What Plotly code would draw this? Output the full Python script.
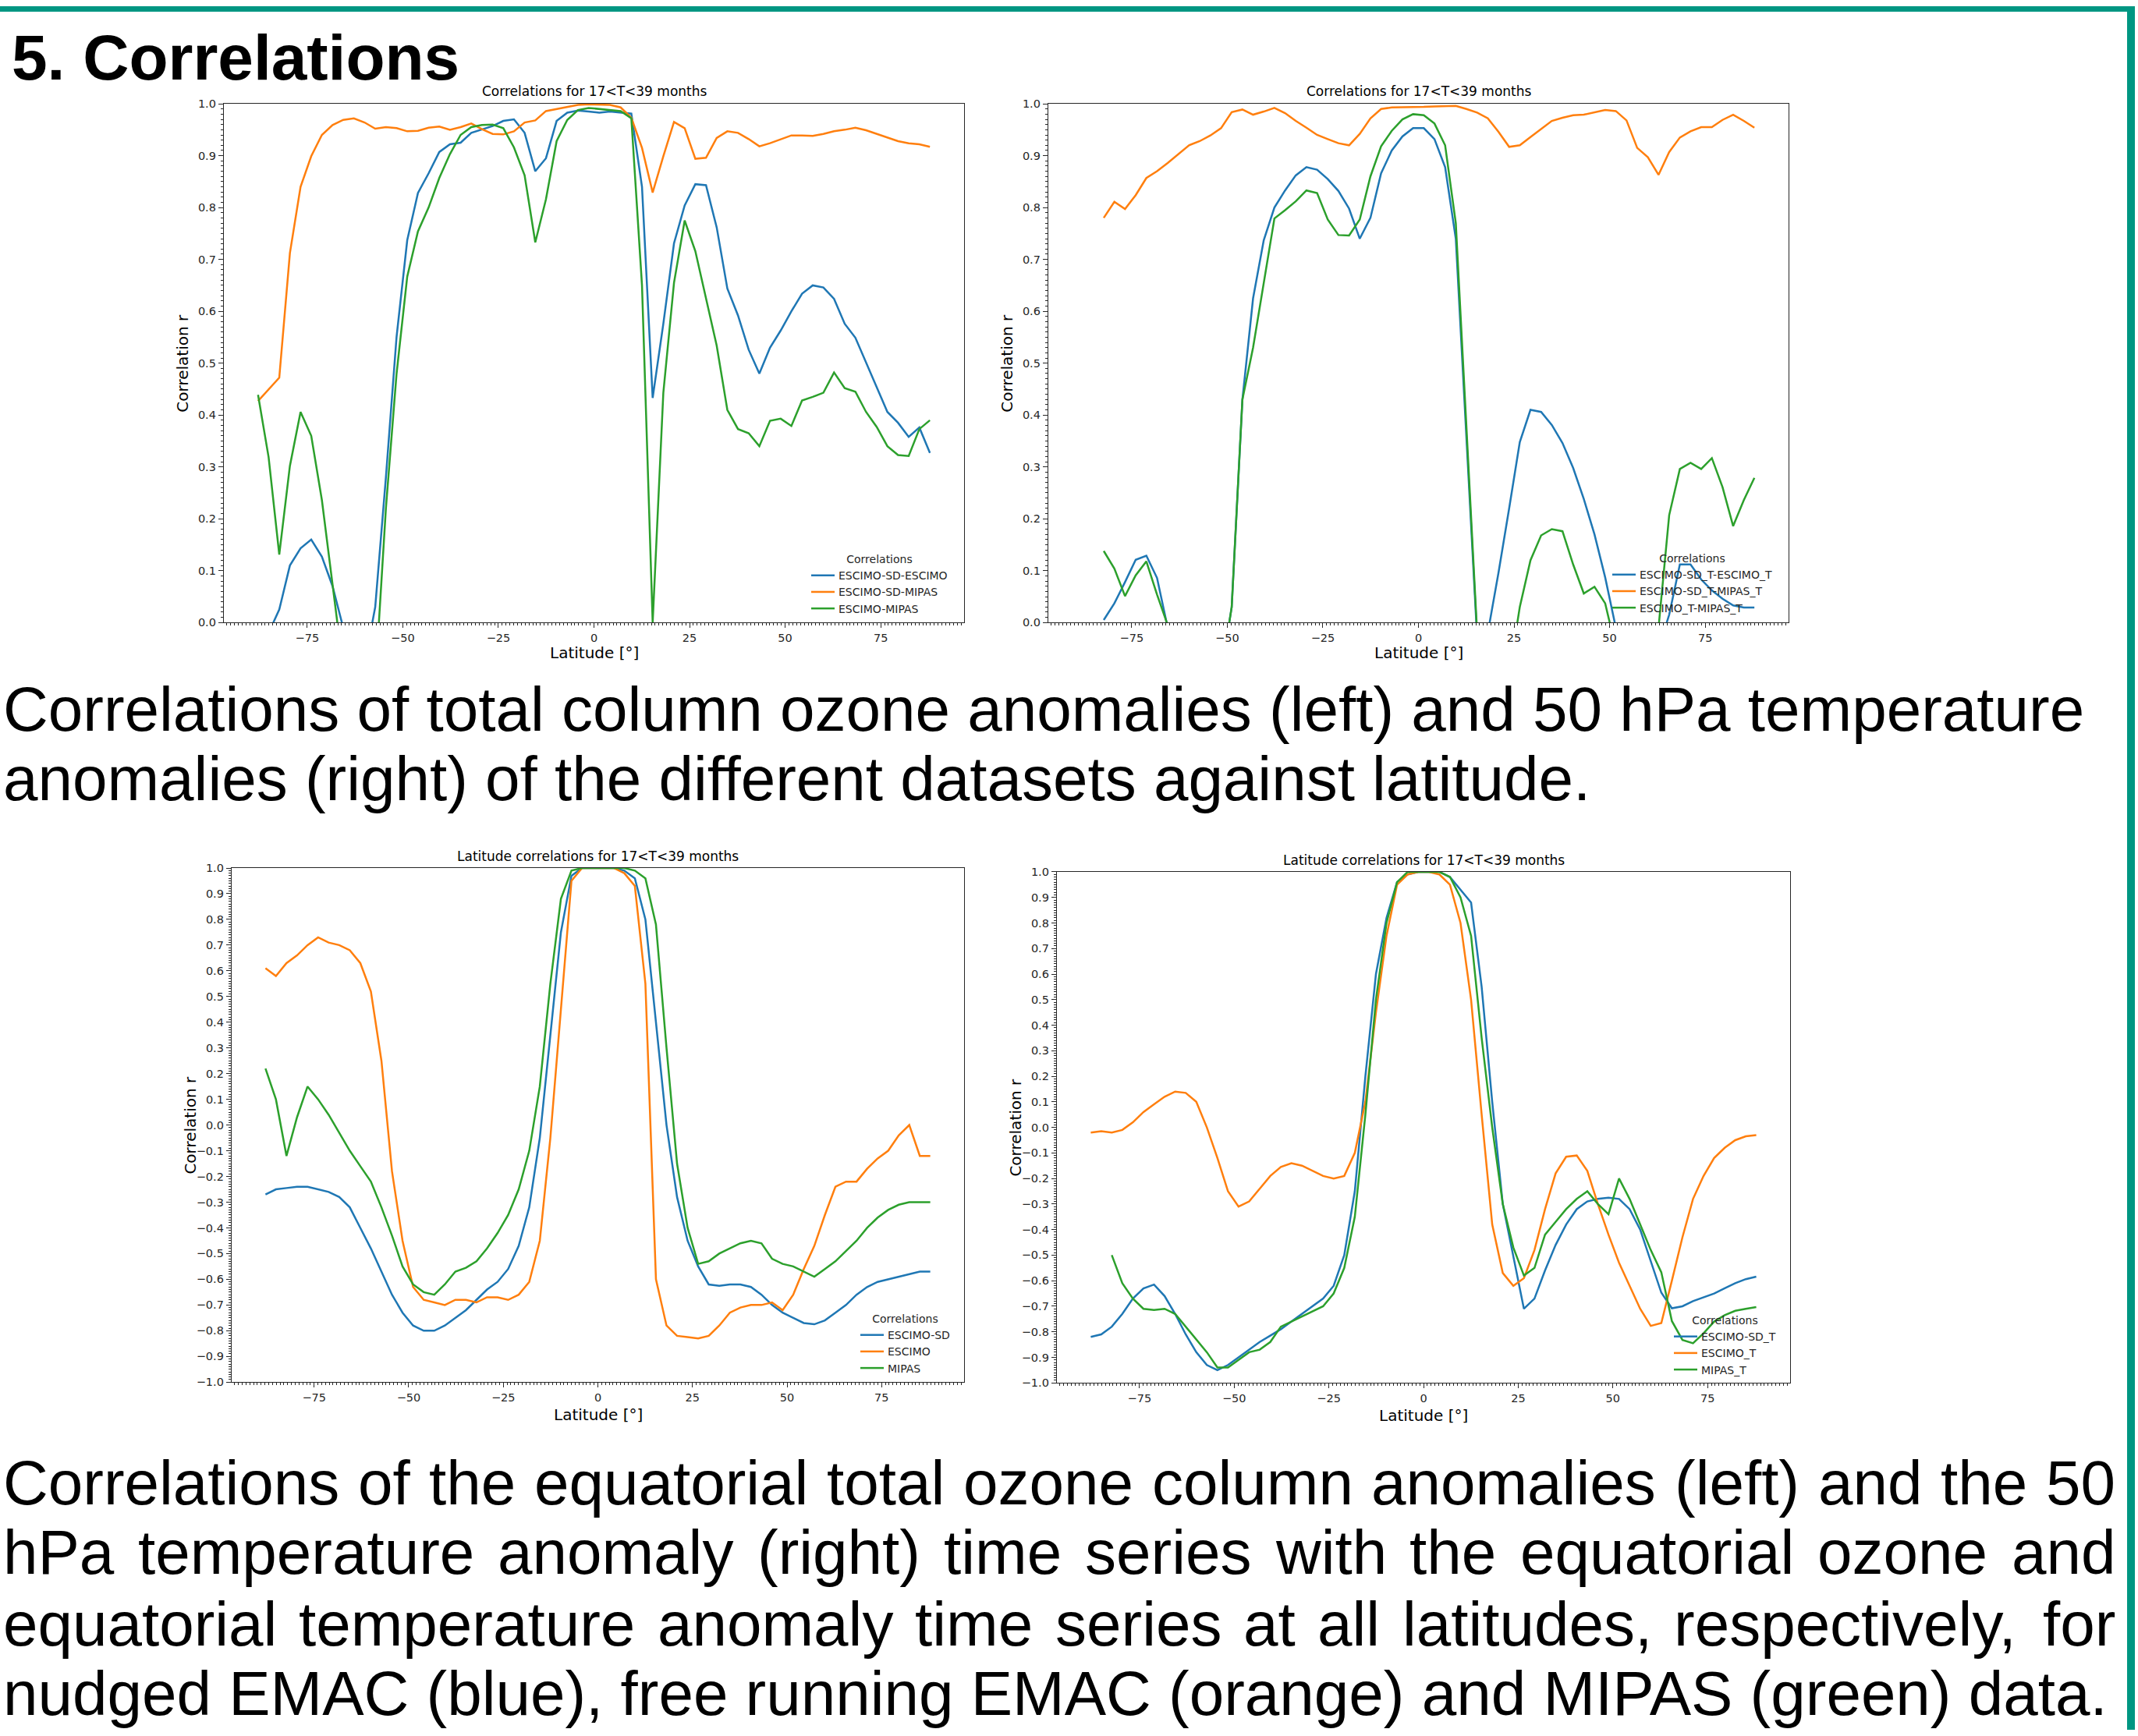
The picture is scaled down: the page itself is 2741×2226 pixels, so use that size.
import plotly.graph_objects as go

W, H = 2741, 2226

# ---------------- data ----------------
LAT = [-87.86, -85.10, -82.31, -79.53, -76.74, -73.95, -71.16, -68.37, -65.58, -62.79,
       -60.00, -57.21, -54.42, -51.63, -48.84, -46.04, -43.25, -40.46, -37.67, -34.88,
       -32.09, -29.30, -26.51, -23.72, -20.93, -18.14, -15.35, -12.56, -9.77, -6.98,
       -4.19, -1.40, 1.40, 4.19, 6.98, 9.77, 12.56, 15.35, 18.14, 20.93,
       23.72, 26.51, 29.30, 32.09, 34.88, 37.67, 40.46, 43.25, 46.04, 48.84,
       51.63, 54.42, 57.21, 60.00, 62.79, 65.58, 68.37, 71.16, 73.95, 76.74,
       79.53, 82.31, 85.10, 87.86]
LAT_MIPAS = LAT[2:]  # MIPAS-based series start at -82.31

# top left: total column ozone correlations
TL_SD_ESCIMO = [-0.08, -0.02, 0.025, 0.11, 0.143, 0.16, 0.127, 0.07, -0.01, -0.3,
                -0.08, 0.03, 0.28, 0.551, 0.737, 0.828, 0.866, 0.907, 0.922, 0.925,
                0.944, 0.95, 0.957, 0.967, 0.97, 0.944, 0.87, 0.895, 0.967, 0.983,
                0.987, 0.985, 0.983, 0.985, 0.983, 0.981, 0.84, 0.433, 0.576, 0.731,
                0.804, 0.845, 0.843, 0.762, 0.644, 0.592, 0.526, 0.48, 0.53, 0.563,
                0.6, 0.634, 0.65, 0.646, 0.624, 0.576, 0.549, 0.501, 0.452, 0.406,
                0.385, 0.358, 0.376, 0.327]
TL_SD_MIPAS = [0.427, 0.45, 0.472, 0.712, 0.84, 0.899, 0.94, 0.959, 0.969, 0.972,
               0.964, 0.952, 0.955, 0.953, 0.947, 0.948, 0.954, 0.956, 0.95, 0.955,
               0.962, 0.951, 0.942, 0.941, 0.947, 0.964, 0.968, 0.986, 0.99, 0.995,
               0.998, 0.999, 0.999, 0.998, 0.993, 0.973, 0.915, 0.829, 0.899, 0.965,
               0.953, 0.894, 0.896, 0.934, 0.947, 0.944, 0.932, 0.918, 0.924, 0.932,
               0.939, 0.939, 0.938, 0.942, 0.947, 0.95, 0.954, 0.949, 0.942, 0.936,
               0.928, 0.924, 0.922, 0.917]
TL_ESCIMO_MIPAS = [0.439, 0.319, 0.131, 0.302, 0.406, 0.36, 0.236, 0.07, -0.09, -0.3,
                   -0.3, -0.115, 0.22, 0.48, 0.667, 0.754, 0.80, 0.857, 0.903, 0.94,
                   0.955, 0.959, 0.96, 0.953, 0.916, 0.862, 0.733, 0.816, 0.928, 0.969,
                   0.988, 0.992, 0.99, 0.988, 0.986, 0.972, 0.65, 0.0, 0.443, 0.655,
                   0.775, 0.716, 0.625, 0.534, 0.41, 0.373, 0.365, 0.34, 0.389, 0.393,
                   0.379, 0.428, 0.435, 0.443, 0.482, 0.452, 0.445, 0.406, 0.377, 0.34,
                   0.323, 0.321, 0.373, 0.39]

# top right: 50 hPa temperature correlations (from -82.31)
TR_SD_ESCIMO_T = [0.005, 0.037, 0.078, 0.121, 0.129, 0.086, -0.01, -0.2, -0.35, -0.4,
                  -0.3, -0.1, 0.03, 0.43, 0.625, 0.737, 0.80, 0.833, 0.862, 0.878,
                  0.873, 0.855, 0.832, 0.798, 0.74, 0.78, 0.866, 0.91, 0.937, 0.953,
                  0.953, 0.932, 0.878, 0.74, 0.35, -0.03, -0.02, 0.096, 0.22, 0.348,
                  0.41, 0.406, 0.381, 0.346, 0.298, 0.238, 0.17, 0.087, -0.01, -0.15,
                  -0.2, -0.15, -0.05, 0.015, 0.112, 0.112, 0.083, 0.062, 0.046, 0.033,
                  0.029, 0.029]
TR_SD_MIPAS_T = [0.78, 0.811, 0.797, 0.824, 0.857, 0.87, 0.886, 0.903, 0.92, 0.928,
                 0.939, 0.953, 0.984, 0.989, 0.979, 0.985, 0.992, 0.982, 0.967, 0.954,
                 0.94, 0.932, 0.924, 0.92, 0.942, 0.972, 0.99, 0.993, 0.993, 0.993,
                 0.994, 0.995, 0.996, 0.996, 0.99, 0.983, 0.972, 0.946, 0.917, 0.92,
                 0.936, 0.951, 0.967, 0.973, 0.978, 0.979, 0.983, 0.988, 0.986, 0.968,
                 0.915, 0.897, 0.863, 0.907, 0.935, 0.947, 0.955, 0.955, 0.969, 0.979,
                 0.967, 0.954]
TR_ESCIMO_MIPAS_T = [0.138, 0.104, 0.051, 0.091, 0.118, 0.054, -0.005, -0.2, -0.3, -0.3,
                     -0.25, -0.1, 0.03, 0.43, 0.53, 0.655, 0.779, 0.795, 0.812, 0.833,
                     0.828, 0.777, 0.747, 0.746, 0.777, 0.86, 0.918, 0.948, 0.97, 0.98,
                     0.978, 0.962, 0.92, 0.77, 0.38, -0.02, -0.2, -0.25, -0.1, 0.03,
                     0.12, 0.168, 0.18, 0.176, 0.112, 0.056, 0.069, 0.037, -0.05, -0.2,
                     -0.2, -0.1, -0.01, 0.207, 0.296, 0.308, 0.296, 0.317, 0.261, 0.186,
                     0.236, 0.279]

# bottom left: latitude correlations of equatorial ozone
BL_ESCIMO_SD = [-0.27, -0.25, -0.245, -0.24, -0.24, -0.25, -0.26, -0.28, -0.32, -0.40,
                -0.48, -0.57, -0.66, -0.73, -0.78, -0.80, -0.80, -0.78, -0.75, -0.72,
                -0.68, -0.64, -0.61, -0.56, -0.47, -0.32, -0.05, 0.35, 0.75, 0.97,
                1.0, 1.0, 1.0, 1.0, 0.99, 0.96, 0.8, 0.4, 0.0, -0.28,
                -0.45, -0.55, -0.62, -0.625, -0.62, -0.62, -0.63, -0.66, -0.70, -0.73,
                -0.75, -0.77, -0.775, -0.76, -0.73, -0.70, -0.66, -0.63, -0.61, -0.60,
                -0.59, -0.58, -0.57, -0.57]
BL_ESCIMO = [0.61, 0.58, 0.63, 0.66, 0.70, 0.73, 0.71, 0.70, 0.68, 0.63,
             0.52, 0.25, -0.18, -0.45, -0.63, -0.68, -0.69, -0.70, -0.68, -0.68,
             -0.69, -0.67, -0.67, -0.68, -0.66, -0.61, -0.45, -0.05, 0.45, 0.95,
             1.0, 1.0, 1.0, 1.0, 0.98, 0.93, 0.55, -0.6, -0.78, -0.82,
             -0.825, -0.83, -0.82, -0.78, -0.73, -0.71, -0.70, -0.70, -0.69, -0.72,
             -0.66, -0.56, -0.47, -0.35, -0.24, -0.22, -0.22, -0.17, -0.13, -0.10,
             -0.04, 0.0, -0.12, -0.12]
BL_MIPAS = [0.22, 0.10, -0.12, 0.03, 0.15, 0.10, 0.04, -0.03, -0.10, -0.16,
            -0.22, -0.32, -0.43, -0.55, -0.62, -0.65, -0.66, -0.62, -0.57, -0.555,
            -0.53, -0.48, -0.42, -0.35, -0.25, -0.1, 0.15, 0.55, 0.88, 0.99,
            1.0, 1.0, 1.0, 1.0, 1.0, 0.99, 0.96, 0.78, 0.3, -0.15,
            -0.40, -0.54, -0.53, -0.50, -0.48, -0.46, -0.45, -0.46, -0.52, -0.54,
            -0.55, -0.57, -0.59, -0.56, -0.53, -0.49, -0.45, -0.40, -0.36, -0.33,
            -0.31, -0.30, -0.30, -0.30]

# bottom right: latitude correlations of equatorial 50 hPa temperature
BR_ESCIMO_SD_T = [-0.82, -0.81, -0.78, -0.73, -0.67, -0.63, -0.615, -0.66, -0.73, -0.81,
                  -0.88, -0.93, -0.95, -0.93, -0.90, -0.87, -0.84, -0.815, -0.79, -0.76,
                  -0.73, -0.70, -0.67, -0.62, -0.50, -0.25, 0.2, 0.60, 0.82, 0.96,
                  0.99, 1.0, 1.0, 1.0, 0.98, 0.93, 0.88, 0.55, 0.1, -0.3,
                  -0.5, -0.71, -0.67, -0.56, -0.46, -0.38, -0.32, -0.29, -0.28, -0.275,
                  -0.28, -0.32, -0.40, -0.52, -0.647, -0.708, -0.70, -0.68, -0.665, -0.65,
                  -0.63, -0.61, -0.594, -0.584]
BR_ESCIMO_T = [-0.02, -0.015, -0.02, -0.01, 0.02, 0.06, 0.09, 0.12, 0.14, 0.135,
               0.10, 0.0, -0.12, -0.25, -0.31, -0.29, -0.24, -0.19, -0.155, -0.14,
               -0.15, -0.17, -0.19, -0.20, -0.19, -0.1, 0.1, 0.45, 0.75, 0.95,
               0.99, 1.0, 1.0, 0.99, 0.95, 0.8, 0.5, 0.05, -0.38, -0.57,
               -0.62, -0.59, -0.48, -0.32, -0.18, -0.115, -0.11, -0.17, -0.3, -0.42,
               -0.53, -0.62, -0.71, -0.777, -0.766, -0.60, -0.43, -0.28, -0.19, -0.12,
               -0.08, -0.05, -0.035, -0.03]
BR_MIPAS_T = [-0.50, -0.61, -0.67, -0.71, -0.715, -0.71, -0.73, -0.78, -0.83, -0.88,
              -0.94, -0.94, -0.91, -0.88, -0.87, -0.84, -0.78, -0.76, -0.74, -0.72,
              -0.70, -0.65, -0.55, -0.35, 0.05, 0.50, 0.80, 0.96, 1.0, 1.0,
              1.0, 1.0, 0.98, 0.9, 0.75, 0.35, 0.0, -0.3, -0.47, -0.58,
              -0.55, -0.42, -0.37, -0.32, -0.28, -0.25, -0.3, -0.34, -0.2, -0.28,
              -0.38, -0.48, -0.567, -0.758, -0.832, -0.845, -0.806, -0.76, -0.735, -0.718,
              -0.71, -0.703]

X_TICKS = [-75, -50, -25, 0, 25, 50, 75]
PANEL_TITLE_TOP = "Correlations for 17&lt;T&lt;39 months"
PANEL_TITLE_BOT = "Latitude correlations for 17&lt;T&lt;39 months"
Y_LABEL = "Correlation r"
X_LABEL = "Latitude [°]"
LEGEND_TITLE = "Correlations"

HEADER = "5. Correlations"
CAPTION_TOP = ["Correlations of total column ozone anomalies (left) and 50 hPa temperature",
               "anomalies (right) of the different datasets against latitude."]
CAPTION_BOT = ["Correlations of the equatorial total ozone column anomalies (left) and the 50",
               "hPa temperature anomaly (right) time series with the equatorial ozone and",
               "equatorial temperature anomaly time series at all latitudes, respectively, for",
               "nudged EMAC (blue), free running EMAC (orange) and MIPAS (green) data."]

C_BLUE, C_ORANGE, C_GREEN = "#1f77b4", "#ff7f0e", "#2ca02c"
TEAL = "#009682"
MPL_FONT = "DejaVu Sans"
TXT_FONT = "Liberation Sans, Arial, sans-serif"
HEAD_FONT = "Liberation Sans, Arial, sans-serif"
AXC = "#262626"

# ---------------- layout geometry (pixels) ----------------
PANELS = [
    dict(box=(287, 126, 1236, 796), yr=(0, 1), title=PANEL_TITLE_TOP, tcy=110,
         leg=(1035, 701), xl=39),
    dict(box=(1344, 126, 2293, 796), yr=(0, 1), title=PANEL_TITLE_TOP, tcy=110,
         leg=(2062, 700), xl=39),
    dict(box=(297, 1113, 1236, 1777), yr=(-1, 1), title=PANEL_TITLE_BOT, tcy=1098,
         leg=(1098, 1682), xl=42),
    dict(box=(1355, 1118, 2295, 1778), yr=(-1, 1), title=PANEL_TITLE_BOT, tcy=1103,
         leg=(2141, 1684), xl=42),
]

SERIES = [
    [(LAT, TL_SD_ESCIMO, "ESCIMO-SD-ESCIMO", C_BLUE),
     (LAT, TL_SD_MIPAS, "ESCIMO-SD-MIPAS", C_ORANGE),
     (LAT, TL_ESCIMO_MIPAS, "ESCIMO-MIPAS", C_GREEN)],
    [(LAT_MIPAS, TR_SD_ESCIMO_T, "ESCIMO-SD_T-ESCIMO_T", C_BLUE),
     (LAT_MIPAS, TR_SD_MIPAS_T, "ESCIMO-SD_T-MIPAS_T", C_ORANGE),
     (LAT_MIPAS, TR_ESCIMO_MIPAS_T, "ESCIMO_T-MIPAS_T", C_GREEN)],
    [(LAT, BL_ESCIMO_SD, "ESCIMO-SD", C_BLUE),
     (LAT, BL_ESCIMO, "ESCIMO", C_ORANGE),
     (LAT, BL_MIPAS, "MIPAS", C_GREEN)],
    [(LAT, BR_ESCIMO_SD_T, "ESCIMO-SD_T", C_BLUE),
     (LAT, BR_ESCIMO_T, "ESCIMO_T", C_ORANGE),
     (LAT_MIPAS, BR_MIPAS_T, "MIPAS_T", C_GREEN)],
]


def px(x):
    return x / W


def py(y):
    return 1 - y / H


fig = go.Figure()
layout = dict(width=W, height=H, margin=dict(l=0, r=0, t=0, b=0),
              paper_bgcolor="white", plot_bgcolor="white", showlegend=True)
annotations = []

for i, (p, ser) in enumerate(zip(PANELS, SERIES)):
    n = "" if i == 0 else str(i + 1)
    l, t, r, b = p["box"]
    legname = "legend" + n
    for xs, ys, name, col in ser:
        fig.add_trace(go.Scatter(x=xs, y=ys, mode="lines", name=name,
                                 line=dict(color=col, width=2.5),
                                 xaxis="x" + n, yaxis="y" + n, legend=legname))
    layout["xaxis" + n] = dict(
        domain=[px(l), px(r)], anchor="y" + n, range=[-96.8, 96.8],
        tickmode="array", tickvals=X_TICKS, showline=True, mirror=True,
        linecolor=AXC, linewidth=1.3, ticks="outside", ticklen=6, tickwidth=1.3,
        tickcolor=AXC, showgrid=False, zeroline=False,
        tickfont=dict(family=MPL_FONT, size=14.5, color=AXC),
        minor=dict(ticks="outside", ticklen=3, tickwidth=1, tickcolor=AXC,
                   tickmode="linear", tick0=0, dtick=1, showgrid=False))
    layout["yaxis" + n] = dict(
        domain=[py(b), py(t)], anchor="x" + n, range=list(p["yr"]),
        tickmode="linear", tick0=0, dtick=0.1, tickformat=".1f",
        showline=True, mirror=True, linecolor=AXC, linewidth=1.3,
        ticks="outside", ticklen=6, tickwidth=1.3, tickcolor=AXC,
        showgrid=False, zeroline=False,
        tickfont=dict(family=MPL_FONT, size=14.5, color=AXC),
        minor=dict(ticks="outside", ticklen=3, tickwidth=1, tickcolor=AXC,
                   tickmode="linear", tick0=0, dtick=0.01, showgrid=False))
    lx, ly = p["leg"]
    layout[legname] = dict(
        x=px(lx), y=py(ly), xref="paper", yref="paper", xanchor="left", yanchor="top",
        bgcolor="rgba(0,0,0,0)", borderwidth=0, tracegroupgap=0,
        font=dict(family=MPL_FONT, size=14, color=AXC),
        title=dict(text=LEGEND_TITLE, side="top center",
                   font=dict(family=MPL_FONT, size=14, color=AXC)))
    cx = (l + r) / 2
    annotations.append(dict(text=p["title"], x=px(cx), y=py(p["tcy"]), xref="paper",
                            yref="paper", xanchor="center", yanchor="middle", showarrow=False,
                            font=dict(family=MPL_FONT, size=17, color="black")))
    annotations.append(dict(text=X_LABEL, x=px(cx), y=py(b + p["xl"]), xref="paper",
                            yref="paper", xanchor="center", yanchor="middle", showarrow=False,
                            font=dict(family=MPL_FONT, size=20, color="black")))
    annotations.append(dict(text=Y_LABEL, x=px(l - 53), y=py((t + b) / 2), xref="paper",
                            yref="paper", xanchor="center", yanchor="middle", showarrow=False,
                            textangle=-90,
                            font=dict(family=MPL_FONT, size=20, color="black")))

# ---------------- poster text ----------------
ARIAL_W = {' ': 278, '(': 333, ')': 333, ',': 278, '-': 333, '.': 278}
for ch in "0123456789":
    ARIAL_W[ch] = 556
ARIAL_W.update(dict(a=556, b=556, c=500, d=556, e=556, f=278, g=556, h=556, i=222, j=222,
                    k=500, l=222, m=833, n=556, o=556, p=556, q=556, r=333, s=500, t=278,
                    u=556, v=500, w=722, x=500, y=500, z=500,
                    A=667, B=667, C=722, D=722, E=667, F=611, G=778, H=722, I=278, J=500,
                    K=667, L=556, M=833, N=722, O=778, P=667, Q=778, R=722, S=667, T=611,
                    U=722, V=667, W=944, X=667, Y=667, Z=611))


def text_width(s, size):
    return sum(ARIAL_W.get(c, 556) for c in s) * size / 1000.0


CAP_SIZE = 80
CAP_LEFT = 2


def add_line(txt, base, size=CAP_SIZE, family=TXT_FONT, left=CAP_LEFT, weight="normal"):
    yc = base - 0.3465 * size
    annotations.append(dict(text=txt, x=px(left), y=py(yc), xref="paper", yref="paper",
                            xanchor="left", yanchor="middle", showarrow=False,
                            font=dict(family=family, size=size, color="black", weight=weight)))


def add_justified(txt, base, right, size=CAP_SIZE, left=CAP_LEFT):
    words = txt.split(" ")
    widths = [text_width(w, size) for w in words]
    gap = (right - left - sum(widths)) / (len(words) - 1)
    x = left
    yc = base - 0.3465 * size
    for w, ww in zip(words, widths):
        annotations.append(dict(text=w, x=px(x), y=py(yc), xref="paper", yref="paper",
                                xanchor="left", yanchor="middle", showarrow=False,
                                font=dict(family=TXT_FONT, size=size, color="black")))
        x += ww + gap


add_line(HEADER, 94, size=82, family=HEAD_FONT, left=13, weight="bold")
add_line(CAPTION_TOP[0], 936)
add_line(CAPTION_TOP[1], 1025)
for k, base in enumerate([1935, 2025, 2117]):
    add_justified(CAPTION_BOT[k], base, 2710)
add_line(CAPTION_BOT[3], 2207)

layout["annotations"] = annotations
layout["shapes"] = [
    dict(type="rect", xref="paper", yref="paper", x0=0, x1=px(2737), y0=py(7), y1=1,
         fillcolor=TEAL, line=dict(width=0), layer="above"),
    dict(type="rect", xref="paper", yref="paper", x0=px(2727), x1=px(2737), y0=0, y1=1,
         fillcolor=TEAL, line=dict(width=0), layer="above"),
]
fig.update_layout(**layout)
fig.write_html("out.html")
